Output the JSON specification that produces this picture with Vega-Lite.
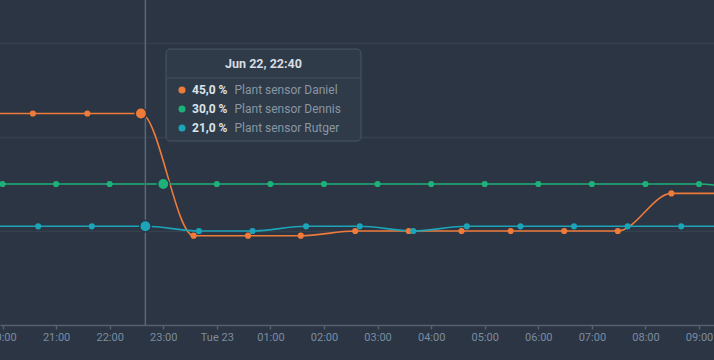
{
  "$schema": "https://vega.github.io/schema/vega-lite/v6.json",
  "width": 714,
  "height": 325,
  "autosize": {"type": "none"},
  "padding": {"left": 0, "top": 0, "right": 0, "bottom": 35},
  "background": "#2b3543",
  "config": {"view": {"stroke": null}, "font": "Roboto"},
  "datasets": {
    "readings": [
      {"sensor": "Plant sensor Daniel", "time": "2020-06-22T19:34:00", "value": 45},
      {"sensor": "Plant sensor Daniel", "time": "2020-06-22T20:34:00", "value": 45},
      {"sensor": "Plant sensor Daniel", "time": "2020-06-22T21:35:00", "value": 45},
      {"sensor": "Plant sensor Daniel", "time": "2020-06-22T22:35:00", "value": 45},
      {"sensor": "Plant sensor Daniel", "time": "2020-06-22T23:34:00", "value": 19},
      {"sensor": "Plant sensor Daniel", "time": "2020-06-23T00:35:00", "value": 19},
      {"sensor": "Plant sensor Daniel", "time": "2020-06-23T01:34:00", "value": 19},
      {"sensor": "Plant sensor Daniel", "time": "2020-06-23T02:35:00", "value": 20},
      {"sensor": "Plant sensor Daniel", "time": "2020-06-23T03:35:00", "value": 20},
      {"sensor": "Plant sensor Daniel", "time": "2020-06-23T04:34:00", "value": 20},
      {"sensor": "Plant sensor Daniel", "time": "2020-06-23T05:29:00", "value": 20},
      {"sensor": "Plant sensor Daniel", "time": "2020-06-23T06:29:00", "value": 20},
      {"sensor": "Plant sensor Daniel", "time": "2020-06-23T07:29:00", "value": 20},
      {"sensor": "Plant sensor Daniel", "time": "2020-06-23T08:29:00", "value": 28},
      {"sensor": "Plant sensor Daniel", "time": "2020-06-23T09:29:00", "value": 28},
      {"sensor": "Plant sensor Dennis", "time": "2020-06-22T19:00:00", "value": 30},
      {"sensor": "Plant sensor Dennis", "time": "2020-06-22T20:00:00", "value": 30},
      {"sensor": "Plant sensor Dennis", "time": "2020-06-22T21:00:00", "value": 30},
      {"sensor": "Plant sensor Dennis", "time": "2020-06-22T22:00:00", "value": 30},
      {"sensor": "Plant sensor Dennis", "time": "2020-06-22T23:00:00", "value": 30},
      {"sensor": "Plant sensor Dennis", "time": "2020-06-23T00:00:00", "value": 30},
      {"sensor": "Plant sensor Dennis", "time": "2020-06-23T01:00:00", "value": 30},
      {"sensor": "Plant sensor Dennis", "time": "2020-06-23T02:00:00", "value": 30},
      {"sensor": "Plant sensor Dennis", "time": "2020-06-23T03:00:00", "value": 30},
      {"sensor": "Plant sensor Dennis", "time": "2020-06-23T04:00:00", "value": 30},
      {"sensor": "Plant sensor Dennis", "time": "2020-06-23T05:00:00", "value": 30},
      {"sensor": "Plant sensor Dennis", "time": "2020-06-23T06:00:00", "value": 30},
      {"sensor": "Plant sensor Dennis", "time": "2020-06-23T07:00:00", "value": 30},
      {"sensor": "Plant sensor Dennis", "time": "2020-06-23T08:00:00", "value": 30},
      {"sensor": "Plant sensor Dennis", "time": "2020-06-23T09:00:00", "value": 30},
      {"sensor": "Plant sensor Dennis", "time": "2020-06-23T10:00:00", "value": 28},
      {"sensor": "Plant sensor Rutger", "time": "2020-06-22T19:40:00", "value": 21},
      {"sensor": "Plant sensor Rutger", "time": "2020-06-22T20:40:00", "value": 21},
      {"sensor": "Plant sensor Rutger", "time": "2020-06-22T21:40:00", "value": 21},
      {"sensor": "Plant sensor Rutger", "time": "2020-06-22T22:40:00", "value": 21},
      {"sensor": "Plant sensor Rutger", "time": "2020-06-22T23:40:00", "value": 20},
      {"sensor": "Plant sensor Rutger", "time": "2020-06-23T00:40:00", "value": 20},
      {"sensor": "Plant sensor Rutger", "time": "2020-06-23T01:40:00", "value": 21},
      {"sensor": "Plant sensor Rutger", "time": "2020-06-23T02:40:00", "value": 21},
      {"sensor": "Plant sensor Rutger", "time": "2020-06-23T03:40:00", "value": 20},
      {"sensor": "Plant sensor Rutger", "time": "2020-06-23T04:40:00", "value": 21},
      {"sensor": "Plant sensor Rutger", "time": "2020-06-23T05:40:00", "value": 21},
      {"sensor": "Plant sensor Rutger", "time": "2020-06-23T06:40:00", "value": 21},
      {"sensor": "Plant sensor Rutger", "time": "2020-06-23T07:40:00", "value": 21},
      {"sensor": "Plant sensor Rutger", "time": "2020-06-23T08:40:00", "value": 21},
      {"sensor": "Plant sensor Rutger", "time": "2020-06-23T09:40:00", "value": 21}
    ]
  },
  "data": {"name": "readings"},
  "layer": [
    {
      "mark": {"type": "line", "interpolate": "monotone", "strokeWidth": 1.6, "clip": true},
      "encoding": {
        "x": {
          "field": "time", "type": "temporal",
          "scale": {"domain": [
            {"year": 2020, "month": 6, "date": 22, "hours": 19, "minutes": 57, "seconds": 12},
            {"year": 2020, "month": 6, "date": 23, "hours": 9, "minutes": 16, "seconds": 44}
          ]},
          "axis": {
            "title": null,
            "values": [
              {"year": 2020, "month": 6, "date": 22, "hours": 20},
              {"year": 2020, "month": 6, "date": 22, "hours": 21},
              {"year": 2020, "month": 6, "date": 22, "hours": 22},
              {"year": 2020, "month": 6, "date": 22, "hours": 23},
              {"year": 2020, "month": 6, "date": 23, "hours": 0},
              {"year": 2020, "month": 6, "date": 23, "hours": 1},
              {"year": 2020, "month": 6, "date": 23, "hours": 2},
              {"year": 2020, "month": 6, "date": 23, "hours": 3},
              {"year": 2020, "month": 6, "date": 23, "hours": 4},
              {"year": 2020, "month": 6, "date": 23, "hours": 5},
              {"year": 2020, "month": 6, "date": 23, "hours": 6},
              {"year": 2020, "month": 6, "date": 23, "hours": 7},
              {"year": 2020, "month": 6, "date": 23, "hours": 8},
              {"year": 2020, "month": 6, "date": 23, "hours": 9}
            ],
            "labelExpr": "hours(datum.value) == 0 ? timeFormat(datum.value, '%a %d') : timeFormat(datum.value, '%H:%M')",
            "grid": false,
            "domainColor": "#56616e", "domainWidth": 1.5,
            "tickColor": "#56616e", "tickSize": 4, "tickWidth": 1.5,
            "labelColor": "#7b8ca1", "labelFontSize": 11, "labelPadding": 2,
            "labelOverlap": false, "labelFlush": false, "labelBound": false
          }
        },
        "y": {
          "field": "value", "type": "quantitative",
          "scale": {"domain": [0, 69.15], "nice": false, "zero": false},
          "axis": {
            "title": null, "values": [20, 40, 60], "labels": false, "ticks": false,
            "domain": false, "grid": true, "gridColor": "#36414e", "gridWidth": 1.5
          }
        },
        "color": {
          "field": "sensor", "type": "nominal",
          "scale": {"domain": ["Plant sensor Daniel", "Plant sensor Dennis", "Plant sensor Rutger"],
                    "range": ["#ef7b3b", "#1eb079", "#1ca4b8"]},
          "legend": null
        }
      }
    },
    {
      "data": {"values": [{}]},
      "mark": {"type": "rule", "color": "#5b6878", "strokeWidth": 1.5},
      "encoding": {
        "x": {"datum": {"year": 2020, "month": 6, "date": 22, "hours": 22, "minutes": 40}, "type": "temporal"}
      }
    },
    {
      "mark": {"type": "circle", "size": 38, "opacity": 1, "clip": true},
      "encoding": {
        "x": {"field": "time", "type": "temporal"},
        "y": {"field": "value", "type": "quantitative"},
        "color": {"field": "sensor", "type": "nominal"}
      }
    },
    {
      "transform": [
        {"filter": "(datum.sensor == 'Plant sensor Daniel' && hours(datum.time) == 22 && minutes(datum.time) == 35) || (datum.sensor == 'Plant sensor Dennis' && hours(datum.time) == 23 && date(datum.time) == 22) || (datum.sensor == 'Plant sensor Rutger' && hours(datum.time) == 22 && minutes(datum.time) == 40)"}
      ],
      "mark": {"type": "circle", "size": 130, "opacity": 1, "stroke": "#2b3543", "strokeWidth": 1.5},
      "encoding": {
        "x": {"field": "time", "type": "temporal"},
        "y": {"field": "value", "type": "quantitative"},
        "color": {"field": "sensor", "type": "nominal"}
      }
    },
    {
      "data": {"values": [{}]},
      "mark": {"type": "rect", "fill": "#2f3b48", "stroke": "#4a5765", "strokeWidth": 1, "cornerRadius": 4},
      "encoding": {
        "x": {"datum": {"year": 2020, "month": 6, "date": 22, "hours": 23, "minutes": 3, "seconds": 5}, "type": "temporal"},
        "x2": {"datum": {"year": 2020, "month": 6, "date": 23, "hours": 2, "minutes": 41, "seconds": 27}},
        "y": {"datum": 58.72, "type": "quantitative"},
        "y2": {"datum": 39.15}
      }
    },
    {
      "data": {"values": [{}]},
      "mark": {"type": "rule", "color": "#45525f", "strokeWidth": 1},
      "encoding": {
        "x": {"datum": {"year": 2020, "month": 6, "date": 22, "hours": 23, "minutes": 3, "seconds": 40}, "type": "temporal"},
        "x2": {"datum": {"year": 2020, "month": 6, "date": 23, "hours": 2, "minutes": 40, "seconds": 54}},
        "y": {"datum": 52.55, "type": "quantitative"}
      }
    },
    {
      "data": {"values": [{}]},
      "mark": {"type": "text", "text": "Jun 22, 22:40", "font": "Roboto", "fontSize": 12.5, "fontWeight": "bold", "color": "#d6dde4", "align": "center", "baseline": "middle"},
      "encoding": {
        "x": {"datum": {"year": 2020, "month": 6, "date": 23, "hours": 0, "minutes": 52, "seconds": 16}, "type": "temporal"},
        "y": {"datum": 55.53, "type": "quantitative"}
      }
    },
    {
      "data": {"values": [{}]},
      "mark": {"type": "circle", "size": 50, "opacity": 1, "color": "#ef7b3b"},
      "encoding": {
        "x": {"datum": {"year": 2020, "month": 6, "date": 22, "hours": 23, "minutes": 21}, "type": "temporal"},
        "y": {"datum": 50.0, "type": "quantitative"}
      }
    },
    {
      "data": {"values": [{}]},
      "mark": {"type": "circle", "size": 50, "opacity": 1, "color": "#1eb079"},
      "encoding": {
        "x": {"datum": {"year": 2020, "month": 6, "date": 22, "hours": 23, "minutes": 21}, "type": "temporal"},
        "y": {"datum": 45.96, "type": "quantitative"}
      }
    },
    {
      "data": {"values": [{}]},
      "mark": {"type": "circle", "size": 50, "opacity": 1, "color": "#1ca4b8"},
      "encoding": {
        "x": {"datum": {"year": 2020, "month": 6, "date": 22, "hours": 23, "minutes": 21}, "type": "temporal"},
        "y": {"datum": 41.91, "type": "quantitative"}
      }
    },
    {
      "data": {"values": [{}]},
      "mark": {"type": "text", "text": ["45,0 %", "30,0 %", "21,0 %"], "lineHeight": 19, "font": "Roboto", "fontSize": 12, "fontWeight": "bold", "color": "#dce3ea", "align": "left", "baseline": "middle"},
      "encoding": {
        "x": {"datum": {"year": 2020, "month": 6, "date": 22, "hours": 23, "minutes": 32, "seconds": 12}, "type": "temporal"},
        "y": {"datum": 50.0, "type": "quantitative"}
      }
    },
    {
      "data": {"values": [{}]},
      "mark": {"type": "text", "text": ["Plant sensor Daniel", "Plant sensor Dennis", "Plant sensor Rutger"], "lineHeight": 19, "font": "Roboto", "fontSize": 12, "color": "#8896a6", "align": "left", "baseline": "middle"},
      "encoding": {
        "x": {"datum": {"year": 2020, "month": 6, "date": 23, "hours": 0, "minutes": 19, "seconds": 48}, "type": "temporal"},
        "y": {"datum": 50.0, "type": "quantitative"}
      }
    }
  ]
}
